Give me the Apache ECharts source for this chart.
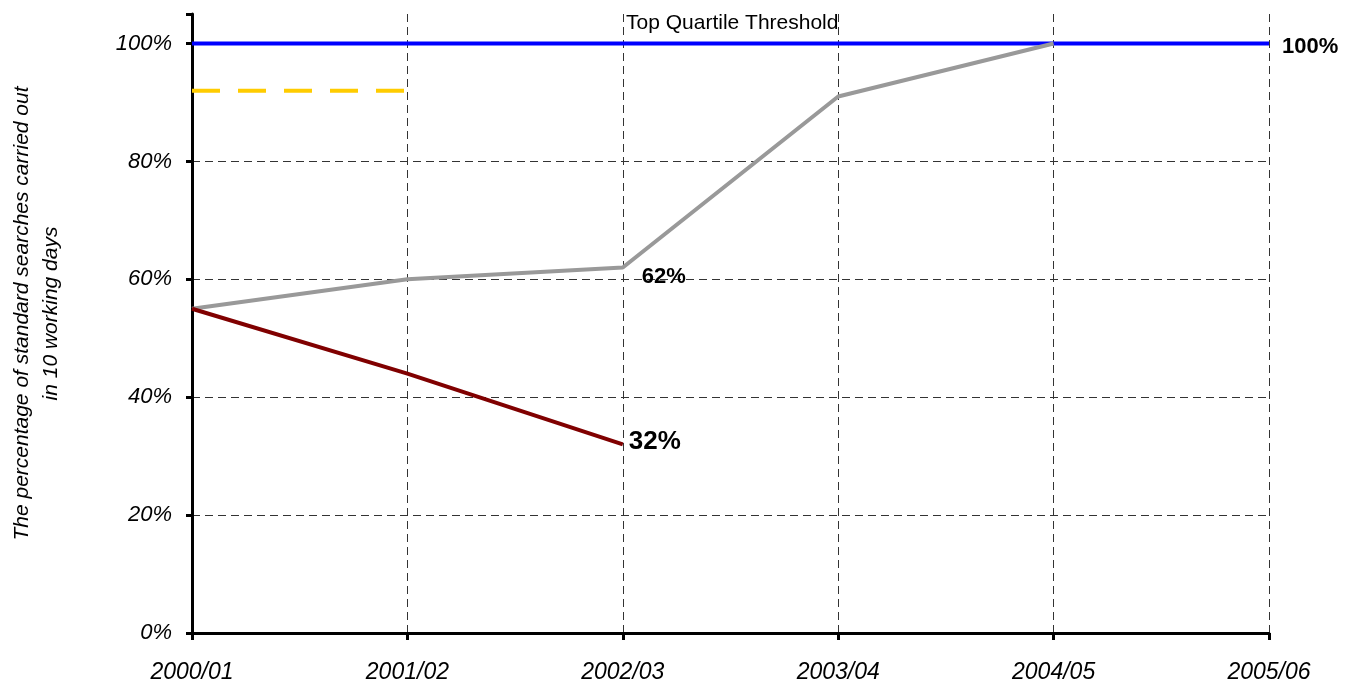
<!DOCTYPE html>
<html><head><meta charset="utf-8">
<script src="https://cdn.jsdelivr.net/npm/echarts@6/dist/echarts.min.js"></script>
<style>html,body{margin:0;padding:0;background:#fff}#c{width:1359px;height:688px}</style>
</head><body><div id="c"></div>
<script>
var categories = ['2000/01','2001/02','2002/03','2003/04','2004/05','2005/06'];
var topQuartile = [100,100,100,100,100,100];
var target = [92,92,null,null,null,null];
var actualTrend = [55,60,62,91,100,null];
var actual = [55,44,32,null,null,null];
var yTicks = [0,20,40,60,80,100];
var FONT = '"Liberation Sans", Arial, sans-serif';
var chart = echarts.init(document.getElementById('c'));
chart.setOption({
  animation:false,
  title:{text:'Top Quartile Threshold',left:621,top:8,textStyle:{fontFamily:FONT,fontSize:21,fontWeight:'normal',color:'#000'}},
  grid:{left:192,right:90,top:14,bottom:55,containLabel:false,outerBoundsMode:'none'},
  xAxis:{type:'category',data:categories,boundaryGap:false,
    axisLine:{lineStyle:{color:'#000',width:3}},
    axisTick:{show:true,length:7,lineStyle:{color:'#000',width:3}},
    axisLabel:{fontFamily:FONT,fontSize:23,fontStyle:'italic',color:'#000',margin:28},
    splitLine:{show:true,lineStyle:{color:'#333',type:[8,5],width:1}}},
  yAxis:{type:'value',min:0,max:105,interval:20,
    name:'The percentage of standard searches carried out\nin 10 working days',
    nameLocation:'middle',nameGap:126,nameRotate:90,
    nameTextStyle:{fontFamily:FONT,fontSize:21,fontStyle:'italic',color:'#000',lineHeight:29,padding:[0,0,0,20]},
    axisLine:{show:true,lineStyle:{color:'#000',width:3}},
    axisTick:{show:true,length:6,lineStyle:{color:'#000',width:3}},
    axisLabel:{fontFamily:FONT,fontSize:22,fontStyle:'italic',color:'#000',margin:20,
      formatter:function(v){return yTicks.indexOf(v)>=0 ? v+'%' : '';}},
    splitLine:{show:true,lineStyle:{color:['#333','#333','#333','#333','#333','#333','rgba(0,0,0,0)'],type:[8,5],width:1}}},
  series:[
    {name:'Top Quartile',type:'line',data:topQuartile,symbol:'none',
      lineStyle:{color:'#0000FF',width:4},
      endLabel:{show:true,formatter:function(p){return p.value+'%';},fontFamily:FONT,fontSize:22,fontWeight:'bold',color:'#000',distance:13,offset:[0,3]}},
    {name:'Target',type:'line',data:target,symbol:'none',
      lineStyle:{color:'#FFCC00',width:4,type:[28,18]}},
    {name:'Trend',type:'line',data:actualTrend,symbol:'circle',symbolSize:0,showSymbol:true,
      itemStyle:{color:'#999999'},
      lineStyle:{color:'#999999',width:4},
      label:{show:true,position:'right',distance:5,offset:[14,9],fontFamily:FONT,fontSize:22,fontWeight:'bold',color:'#000',
        formatter:function(p){return p.dataIndex===2 ? p.value+'%' : '';}}},
    {name:'Actual',type:'line',data:actual,symbol:'none',
      lineStyle:{color:'#800000',width:4},
      endLabel:{show:true,formatter:function(p){return p.value+'%';},fontFamily:FONT,fontSize:26,fontWeight:'bold',color:'#000',distance:6,offset:[0,-3]}}
  ]
});
</script></body></html>
